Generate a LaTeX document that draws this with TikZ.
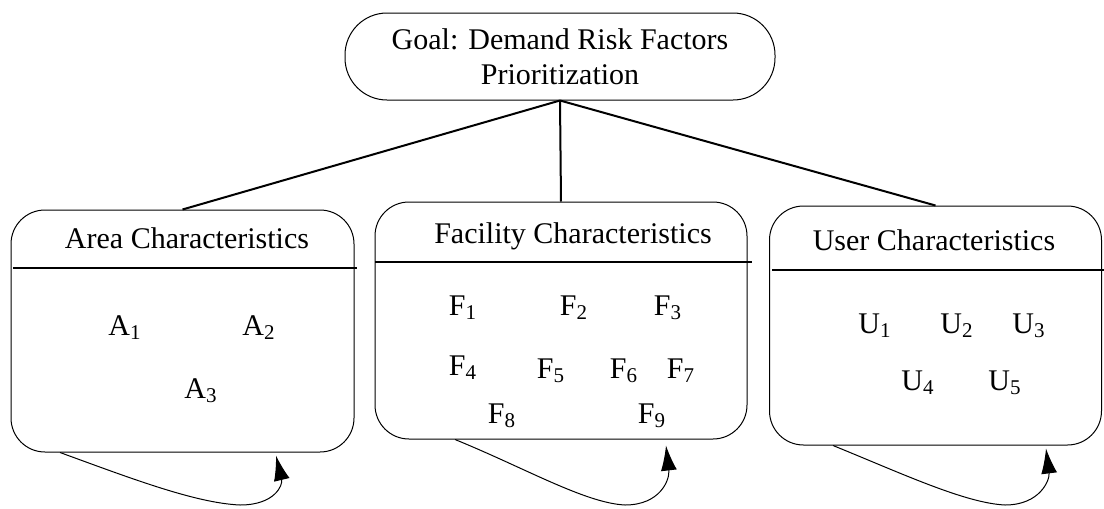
\documentclass[tikz,border=0pt]{standalone}
\usepackage{fontspec}
\setmainfont{Liberation Serif}
\usetikzlibrary{arrows.meta}

\begin{document}
\begin{tikzpicture}[x=0.5pt,y=-0.5pt,
  txt/.style={font=\fontsize{15}{17.5}\selectfont,inner sep=0pt},
  goalbox/.style={draw,line width=0.5pt,rounded corners=21pt,minimum width=215pt,minimum height=43.5pt,align=center,inner sep=0pt,font=\fontsize{15}{17.5}\selectfont},
  catbox/.style={draw,line width=0.5pt,rounded corners=17pt,inner sep=0pt},
  link/.style={line width=1pt},
  headline/.style={line width=1pt},
  loopy/.style={line width=0.5pt,-{Latex[length=12.5pt,width=8pt]}}]
\useasboundingbox (0,0) rectangle (1104,509);

\node[goalbox] (goal) at (560,56.5) {Goal: Demand Risk Factors\\Prioritization};

\node[catbox,minimum width=171.5pt,minimum height=121pt] (area) at (182.5,331) {};
\node[catbox,minimum width=186pt,minimum height=118.5pt] (fac) at (561,320.5) {};
\node[catbox,minimum width=166pt,minimum height=119.5pt] (user) at (935.5,325.5) {};

% titles and header lines
\node[txt,anchor=base] (areat) at (187,248) {Area Characteristics};
\node[txt,anchor=base] (fact) at (573,243) {Facility Characteristics};
\node[txt,anchor=base] (usert) at (934,250) {User Characteristics};
\draw[headline] (13,268) -- (357,268);
\draw[headline] (375,262) -- (752,262);
\draw[headline] (772,270) -- (1104,270);

% factors
\foreach \l/\s/\x/\y in {A/1/125/335,A/2/259/335,A/3/201/398,
  F/1/463/315,F/2/574/315,F/3/668/315,F/4/463/375,F/5/551/378,
  F/6/624/378,F/7/681/378,F/8/502/423,F/9/652/423,
  U/1/875/333,U/2/957/333,U/3/1029/333,U/4/918/390,U/5/1005/390}
{
\node[txt,anchor=base] (\l\s) at (\x,\y) {\l\textsubscript{\s}};
}

% hierarchy links
\draw[link] (goal.south) -- (area.north);
\draw[link] (goal.south) -- (fac.north);
\draw[link] (goal.south) -- (user.north);

% self loops
\draw[loopy] ([xshift=-61.25pt]area.south) .. controls (130,478) and (195,503) .. (240,505) .. controls (275,505) and (283,485) .. ([xshift=46.75pt,yshift=-1.5pt]area.south);
\draw[loopy] ([xshift=-53pt]fac.south) .. controls (525,468) and (585,503) .. (625,505) .. controls (660,505) and (670,480) .. ([xshift=52.5pt,yshift=-3pt]fac.south);
\draw[loopy] ([xshift=-51.25pt]user.south) .. controls (903,474) and (965,503) .. (1005,505) .. controls (1040,505) and (1050,480) .. ([xshift=55.25pt,yshift=-1.5pt]user.south);

\end{tikzpicture}
\end{document}
